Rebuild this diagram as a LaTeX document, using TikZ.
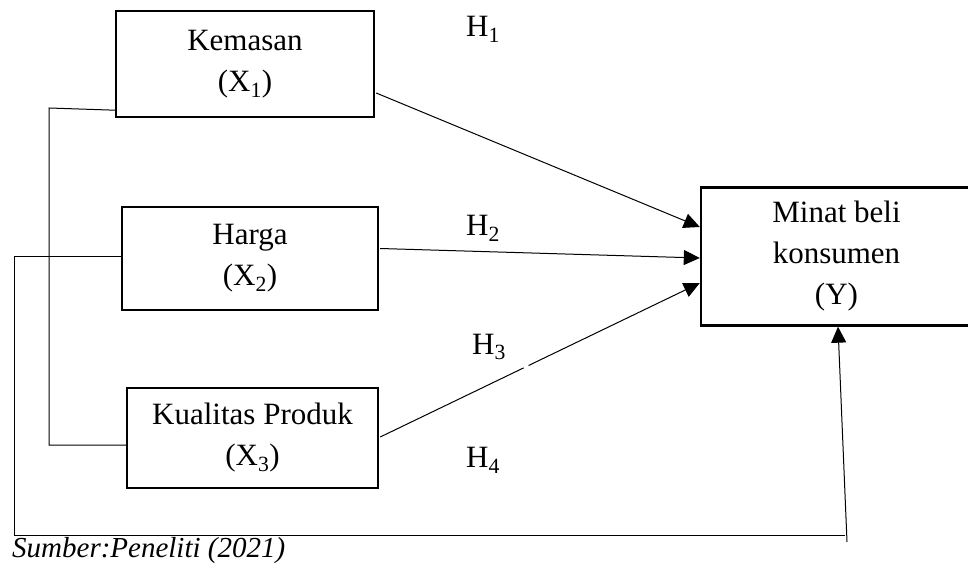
\documentclass[tikz,border=0pt]{standalone}
\usepackage{fontspec}
\setmainfont{Liberation Serif}
\usetikzlibrary{arrows.meta,calc}
\tikzset{
  varbox/.style={draw, line width=2.4pt, align=center, inner sep=0pt,
    font=\fontsize{31}{41}\selectfont},
  hyp/.style={font=\fontsize{31}{38}\selectfont, inner sep=0pt},
  conn/.style={line width=1pt},
  arr/.style={line width=1pt, -{Triangle[length=16pt,width=15pt]}}
}
\begin{document}
\begin{tikzpicture}[x=1pt,y=-1pt]
\useasboundingbox (0,0) rectangle (968,564);
% boxes
\node[varbox, minimum width=258pt, minimum height=106pt] (kem) at (245,64) {Kemasan\\(X\textsubscript{1})};
\node[varbox, minimum width=256pt, minimum height=103pt] (har) at (250,258.5) {Harga\\(X\textsubscript{2})};
\node[varbox, minimum width=251pt, minimum height=100pt] (kua) at (252.5,438) {Kualitas Produk\\(X\textsubscript{3})};
\node[varbox, minimum width=271pt, minimum height=138pt] (min) at (836.5,256.5) {Minat beli\\konsumen\\(Y)};
% hypothesis labels
\node[hyp] (h1) at (483,29) {H\textsubscript{1}};
\node[hyp] (h2) at (483,228) {H\textsubscript{2}};
\node[hyp] (h3) at (489,347) {H\textsubscript{3}};
\node[hyp] (h4) at (483,460) {H\textsubscript{4}};
% arrows to Y
\draw[arr] ($(kem.east)+(1,29)$) -- ($(min.west)+(0,-29.5)$);
\draw[arr] ($(har.east)+(1,-10)$) -- ($(min.west)+(0,1.5)$);
\coordinate (s3) at ($(kua.east)+(1,-1)$);
\coordinate (t3) at ($(min.west)+(0,26.5)$);
\draw[arr] (s3) -- (t3);
\draw[white, line width=2.5pt] ($(s3)!0.449!(t3)$) -- ($(s3)!0.464!(t3)$);
% left bracket X1 -- X3
\draw[conn] ($(kem.south west)+(0,-8)$) -- (49,108) |- ($(kua.west)+(0,7)$);
% outer loop from X2 to Y
\coordinate (foot) at (847,542);
\draw[conn] ($(har.west)+(0,-2.5)$) -- (14,256) |- (845,535);
\draw[arr] (foot) -- ($(min.south)+(1.5,0)$);
% source
\node[anchor=base west, inner sep=0pt, font=\fontsize{29}{34}\selectfont\itshape] (src) at (12,557) {Sumber:Peneliti (2021)};
\end{tikzpicture}
\end{document}
